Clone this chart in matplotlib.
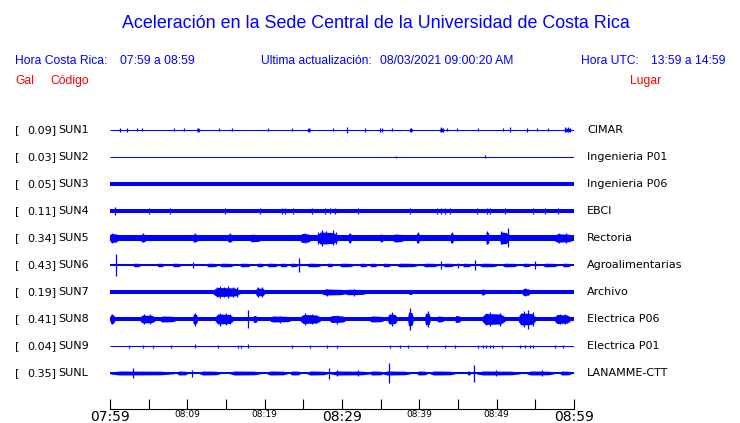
import matplotlib
matplotlib.use("Agg")
import matplotlib.pyplot as plt
from matplotlib import transforms

# stations, peak acceleration (gal) and place names
codes = ["SUN1", "SUN2", "SUN3", "SUN4", "SUN5", "SUN6", "SUN7", "SUN8", "SUN9", "SUNL"]
peak_gal = [0.09, 0.03, 0.05, 0.11, 0.34, 0.43, 0.19, 0.41, 0.04, 0.35]
places = ["CIMAR", "Ingenieria P01", "Ingenieria P06", "EBCI", "Rectoria",
          "Agroalimentarias", "Archivo", "Electrica P06", "Electrica P01", "LANAMME-CTT"]

# background noise half height of each trace (pixels of the display)
noise = [0.5, 0.5, 1.7, 2.1, 2.8, 0.9, 1.9, 2.2, 0.5, 0.9]

# noisy stretches: (start min, end min, peak half height px), minutes after 07:59
segments = {
    "SUN1": [(11.2, 11.6, 1.8), (25.5, 25.9, 1.8), (38.7, 39.1, 1.8), (42.6, 43.2, 1.8), (58.7, 59.6, 1.8)],
    "SUN5": [(0.0, 1.0, 4.5), (4.0, 4.6, 4.0), (10.7, 11.3, 4.0), (15.2, 15.8, 4.0), (18.1, 19.4, 3.8),
             (24.6, 25.9, 4.5), (26.8, 29.4, 6.0), (30.8, 31.2, 4.5), (34.9, 35.3, 4.0), (36.6, 37.9, 4.0),
             (39.6, 40.0, 5.0), (44.0, 44.4, 5.0), (48.6, 49.0, 6.0), (50.4, 51.5, 6.0), (57.5, 59.7, 4.2)],
    "SUN6": [(3.0, 3.9, 1.8), (6.1, 6.9, 1.8), (8.1, 9.1, 1.8), (12.5, 13.8, 1.8), (14.2, 15.9, 1.8),
             (16.8, 18.1, 1.8), (19.0, 19.8, 1.8), (20.3, 21.6, 1.8), (22.0, 22.9, 1.8), (23.3, 24.2, 1.8),
             (25.5, 27.2, 1.8), (28.1, 28.8, 1.8), (29.7, 31.4, 1.8), (32.3, 33.2, 1.8), (33.6, 34.5, 1.8),
             (35.3, 36.2, 1.8), (37.1, 39.7, 1.8), (40.5, 42.3, 1.8), (43.1, 44.4, 1.8), (45.6, 46.6, 1.8),
             (47.8, 50.0, 1.8), (50.8, 52.6, 1.8), (53.4, 54.3, 1.8), (56.0, 57.8, 1.8), (58.5, 59.5, 1.8)],
    "SUN7": [(13.3, 16.8, 4.5), (18.8, 20.0, 4.0), (27.4, 30.4, 3.0), (30.4, 33.0, 2.8), (38.6, 39.1, 2.5),
             (48.0, 48.5, 3.0), (53.3, 54.3, 3.5)],
    "SUN8": [(0.0, 0.6, 4.5), (3.9, 5.8, 4.0), (6.5, 8.4, 3.0), (10.7, 11.3, 5.0), (13.6, 15.9, 5.0),
             (18.5, 19.0, 3.5), (20.7, 23.3, 3.0), (24.6, 27.2, 4.5), (28.4, 30.4, 3.5), (33.6, 35.3, 3.0),
             (35.9, 37.1, 5.0), (38.5, 39.2, 7.0), (40.7, 41.4, 6.0), (42.3, 43.1, 3.0), (44.6, 45.3, 3.5),
             (48.1, 51.1, 5.5), (52.8, 55.0, 6.0), (57.5, 59.5, 4.5)],
    "SUNL": [(0.0, 8.2, 2.0), (8.7, 10.0, 2.0), (11.6, 14.2, 2.0), (15.5, 19.4, 2.0), (20.3, 22.9, 2.0),
             (23.3, 24.6, 2.0), (25.5, 28.1, 2.0), (28.5, 33.6, 2.0), (33.6, 35.3, 2.0), (35.3, 38.8, 2.0),
             (39.7, 41.0, 2.0), (41.4, 44.6, 2.0), (46.2, 46.6, 2.0), (47.4, 53.0, 2.0), (53.9, 57.4, 2.0),
             (58.2, 59.6, 2.0)],
}

# single peaks: (min, half height px)
spikes = {
    "SUN1": [(1.3, 2), (2.2, 2), (3.5, 1.5), (4.1, 1.5), (8.3, 1.5), (9.6, 1.5), (11.4, 2), (14.1, 1.5),
             (15.8, 1.5), (20.4, 1.5), (23.5, 1.5), (25.7, 2), (28.8, 1.5), (30.6, 3), (33.0, 2), (34.9, 2),
             (35.2, 2), (36.5, 1.5), (38.9, 2), (42.8, 2.5), (43.1, 2), (43.6, 1.5), (44.9, 1.5), (47.6, 1.5),
             (50.8, 1.5), (51.7, 2.5), (53.9, 2), (55.2, 1.5), (56.6, 1.5), (58.8, 2.5), (59.2, 2.5), (59.5, 2)],
    "SUN2": [(37.0, 1.2), (48.5, 1.5)],
    "SUN4": [(0.6, 3.8), (5.0, 3), (7.8, 3), (14.9, 3), (19.4, 3), (22.2, 3), (22.6, 3), (23.7, 3), (26.1, 3),
             (27.8, 3), (28.4, 3), (29.1, 3), (32.1, 3), (38.8, 3), (42.3, 3), (42.8, 3), (43.3, 3), (44.0, 3),
             (47.5, 3), (48.8, 3), (49.1, 3), (51.1, 3), (54.7, 3), (56.3, 3), (57.9, 3)],
    "SUN5": [(0.3, 5), (4.3, 4.5), (11.0, 4.5), (15.5, 4.5), (25.2, 5), (26.9, 6), (27.4, 8), (27.9, 6.5),
             (28.8, 7.5), (29.2, 6), (31.0, 5), (39.8, 5.5), (44.2, 5.5), (48.8, 6.5), (50.6, 6.5),
             (51.5, 9.5), (58.0, 4.8), (59.0, 4.8)],
    "SUN6": [(0.8, 11), (10.7, 3), (24.4, 7), (42.8, 3.5), (45.0, 2.5), (47.2, 5), (55.0, 3.5)],
    "SUN7": [(13.8, 5), (14.2, 6), (14.8, 5.5), (15.3, 6), (15.9, 5.5), (16.4, 4.5), (19.1, 5), (19.7, 5),
             (28.0, 3.5), (31.5, 3.5), (53.7, 4)],
    "SUN8": [(0.3, 5.5), (4.4, 5), (5.2, 5), (11.0, 6.5), (14.2, 6.5), (15.0, 6), (15.5, 5.5), (17.8, 9),
             (22.0, 3.5), (25.2, 6), (26.1, 5.5), (29.3, 4.5), (36.5, 7), (38.8, 11), (41.1, 8), (48.6, 6),
             (49.1, 7), (50.4, 6.5), (53.5, 8), (54.1, 9.5), (54.7, 7), (58.2, 5.5), (58.9, 5)],
    "SUN9": [(2.5, 1.5), (4.3, 1.5), (5.6, 1.5), (7.9, 1.5), (11.0, 2), (14.0, 1.5), (16.6, 1.5), (16.9, 1.5),
             (17.8, 2), (23.5, 1.5), (25.9, 1.5), (28.1, 1.5), (29.4, 1.5), (36.2, 1.5), (37.5, 1.5),
             (38.5, 1.5), (41.0, 1.5), (43.3, 1.5), (44.6, 1.5), (47.6, 1.5), (48.2, 1.5), (48.6, 1.5),
             (49.1, 1.5), (49.5, 1.5), (50.7, 1.5), (53.0, 1.5), (53.7, 1.5), (54.3, 1.5), (54.7, 1.5),
             (57.5, 1.5), (58.6, 1.5)],
    "SUNL": [(3.0, 5), (10.6, 3.5), (28.3, 5.5), (29.4, 3), (32.1, 3), (36.1, 10), (47.1, 8.5), (49.9, 3),
             (55.9, 3)],
}

tick_min = [0, 10, 20, 30, 40, 50, 60]
tick_lab = ["07:59", "08:09", "08:19", "08:29", "08:39", "08:49", "08:59"]
big_labels = ["07:59", "08:29", "08:59"]

BLUE = "#0000ff"
RED = "#ff0000"
W, H = 740, 423
ROW = 27.0  # pixels between traces

fig = plt.figure(figsize=(W / 100, H / 100), dpi=100)
ax = fig.add_axes([110 / W, (H - 409) / H, 464 / W, (409 - 115) / H])
ax.set_xlim(0, 60)
ax.set_ylim(-(409 - 130) / ROW, 15 / ROW)

for i, code in enumerate(codes):
    y0 = -i
    ax.plot([0, 60], [y0, y0], color=BLUE, lw=0.75, solid_capstyle="butt")
    if noise[i] > 0.5:
        ax.fill_between([0, 60], y0 - noise[i] / ROW, y0 + noise[i] / ROW, color=BLUE, lw=0)
    # bursts: quick rise, flat top, short fade
    for t0, t1, a in segments.get(code, []):
        d = t1 - t0
        tx = [t0, t0 + d * 0.15, t0 + d * 0.8, t1]
        amp = [noise[i], a, a * 0.9, noise[i]]
        ax.fill_between(tx, [y0 - v / ROW for v in amp], [y0 + v / ROW for v in amp], color=BLUE, lw=0)
    for t, a in spikes.get(code, []):
        ax.vlines(t, y0 - a / ROW, y0 + a / ROW, color=BLUE, lw=0.9)

# time axis
for s in ["top", "left", "right"]:
    ax.spines[s].set_visible(False)
ax.spines["bottom"].set_linewidth(0.8)
ax.set_yticks([])
ax.set_xticks(range(0, 61, 5))
ax.set_xticklabels(["" if m not in tick_min else tick_lab[tick_min.index(m)] for m in range(0, 61, 5)])
ax.tick_params(axis="x", direction="in", length=7, width=0.8, pad=1)
for lab in ax.get_xticklabels():
    lab.set_fontfamily("DejaVu Sans")
    lab.set_fontsize(10 if lab.get_text() in big_labels else 6.5)

# station labels
trans = transforms.blended_transform_factory(fig.transFigure, ax.transData)
for i, code in enumerate(codes):
    ax.text(15 / W, -i, "[", transform=trans, fontsize=8, va="center", ha="left", family="DejaVu Sans")
    ax.text(56 / W, -i, f"{peak_gal[i]:.2f}]", transform=trans, fontsize=8, va="center", ha="right",
            family="DejaVu Sans")
    ax.text(58 / W, -i, code, transform=trans, fontsize=8, va="center", ha="left", family="DejaVu Sans")
    ax.text(587 / W, -i, places[i], transform=trans, fontsize=8, va="center", ha="left", family="DejaVu Sans")

# header
hf = "Liberation Sans"
fig.text(376 / W, 1 - 23 / H, "Aceleración en la Sede Central de la Universidad de Costa Rica",
         ha="center", va="center", color=BLUE, fontsize=12.9, family=hf)
row2 = 1 - 61 / H
fs = 8.7
fig.text(15 / W, row2, "Hora Costa Rica:", color=BLUE, fontsize=fs, family=hf, va="center")
fig.text(120 / W, row2, "07:59 a 08:59", color=BLUE, fontsize=fs, family=hf, va="center")
fig.text(261 / W, row2, "Ultima actualización:", color=BLUE, fontsize=fs, family=hf, va="center")
fig.text(380 / W, row2, "08/03/2021 09:00:20 AM", color=BLUE, fontsize=fs, family=hf, va="center")
fig.text(581 / W, row2, "Hora UTC:", color=BLUE, fontsize=fs, family=hf, va="center")
fig.text(651 / W, row2, "13:59 a 14:59", color=BLUE, fontsize=fs, family=hf, va="center")
row3 = 1 - 81 / H
fig.text(15 / W, row3, "Gal", color=RED, fontsize=fs, family=hf, va="center")
fig.text(50 / W, row3, "Código", color=RED, fontsize=fs, family=hf, va="center")
fig.text(630 / W, row3, "Lugar", color=RED, fontsize=fs, family=hf, va="center")

fig.savefig("out.png", dpi=100, facecolor="white")
